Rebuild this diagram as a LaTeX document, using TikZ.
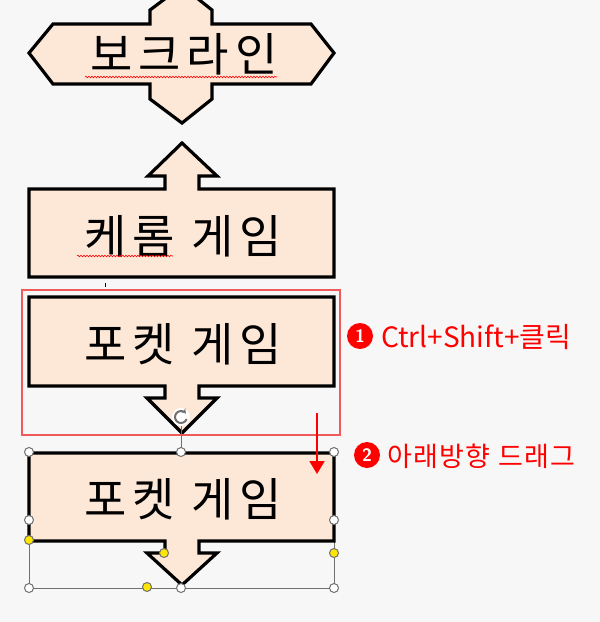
\documentclass[tikz,border=0pt]{standalone}
\usepackage{fontspec}
\newfontfamily\kr{Noto Sans CJK KR}
\newfontfamily\krwide[LetterSpace=13]{Noto Sans CJK KR}
\newfontfamily\krmid[LetterSpace=5]{Noto Sans CJK KR}
\usetikzlibrary{decorations.pathmorphing,arrows.meta}
\definecolor{bg}{HTML}{F7F7F7}
\definecolor{peach}{HTML}{FDE7D6}
\definecolor{framered}{HTML}{F05A5A}
\definecolor{hgray}{HTML}{707070}
\definecolor{hyellow}{HTML}{FFE600}
\begin{document}
\begin{tikzpicture}[x=1pt,y=-1pt,
  shapebox/.style={draw=black,line width=3.2pt,fill=peach,line join=miter},
  bigtext/.style={font=\krwide\fontsize{46}{54}\selectfont, inner sep=0pt},
  redtext/.style={font=\kr\fontsize{28}{32}\selectfont, text=red, anchor=west, inner sep=0pt},
  redtextb/.style={font=\krmid\fontsize{27}{32}\selectfont, text=red, anchor=west, inner sep=0pt},
  num/.style={circle,fill=red,text=white,inner sep=0pt,minimum size=26pt,font=\sffamily\bfseries\fontsize{18}{20}\selectfont},
  whandle/.style={circle,draw=hgray,fill=white,line width=1pt,minimum size=9pt,inner sep=0pt},
  yhandle/.style={circle,draw=hgray,fill=hyellow,line width=1pt,minimum size=9pt,inner sep=0pt},
  squiggle/.style={draw=red,line width=0.6pt,decorate,decoration={snake,amplitude=0.8pt,segment length=3pt}},
  selline/.style={draw=hgray,line width=0.8pt}
]
\useasboundingbox[fill=bg] (0,0) rectangle (600,622);
\clip (0,0) rectangle (600,622);

% top shape
\draw[shapebox] (150,24) -- (150,10) -- (182,-14) -- (212,10) -- (212,24) -- (311,24) -- (334,53) -- (311,84)
  -- (212,84) -- (212,99) -- (182,123) -- (150,99) -- (150,84) -- (53,84) -- (29,53) -- (53,24) -- cycle;
\node[bigtext] (t1) at (184,54) {보크라인};
\draw[squiggle] (85,77) -- (277,77);

% up arrow callout
\draw[shapebox] (29,189) -- (165,189) -- (165,176) -- (148,176) -- (182,143) -- (217,176) -- (199,176) -- (199,189)
  -- (334,189) -- (334,277) -- (29,277) -- cycle;
\node[bigtext] (t2) at (183,236) {케롬 게임};
\draw[squiggle] (77,256) -- (173,256);
\draw[line width=0.8pt] (105,283) -- (105,287);

% down arrow callout 1
\draw[shapebox] (29,297) -- (334,297) -- (334,386) -- (199,386) -- (199,398) -- (217,398) -- (182,433) -- (147,398)
  -- (165,398) -- (165,386) -- (29,386) -- cycle;
\node[bigtext] (t3) at (183,344) {포켓 게임};

% red frame
\draw[framered,line width=2.2pt] (22,290) rectangle (340,435);

% down arrow callout 2 (selected)
\draw[selline] (29,453) rectangle (334,588);
\draw[selline] (181,423) -- (181,452);
\draw[shapebox] (29,453) -- (334,453) -- (334,541) -- (199,541) -- (199,553) -- (217,553) -- (182,585) -- (147,553)
  -- (165,553) -- (165,541) -- (29,541) -- cycle;
\node[bigtext] (t4) at (183,499) {포켓 게임};

% rotation handle
\fill[white] (181,417) circle (9);
\draw[hgray,line width=2pt,-{Stealth[length=4pt,width=6pt]}] (181,417) ++(20:6) arc[start angle=20,end angle=320,radius=6];

% handles
\node[whandle] (h1) at (29,452) {};
\node[whandle] (h2) at (181,452) {};
\node[whandle] (h3) at (334,452) {};
\node[whandle] (h4) at (29,520) {};
\node[whandle] (h5) at (334,520) {};
\node[whandle] (h6) at (29,588) {};
\node[whandle] (h7) at (181,588) {};
\node[whandle] (h8) at (334,588) {};
\node[yhandle] (y1) at (29,540) {};
\node[yhandle] (y2) at (164,553) {};
\node[yhandle] (y3) at (334,553) {};
\node[yhandle] (y4) at (147,587) {};

% red drag arrow
\coordinate (a1) at (317,413);
\coordinate (a2) at (317,474);
\draw[red,line width=2pt,-{Triangle[length=13pt,width=15pt]}] (a1) -- (a2);

% labels
\node[num] (n1) at (360,336) {1};
\node[redtext] (l1) at (381,337) {Ctrl+Shift+클릭};
\node[num] (n2) at (367,455) {2};
\node[redtextb] (l2) at (387,456) {아래방향 드래그};
\end{tikzpicture}
\end{document}
